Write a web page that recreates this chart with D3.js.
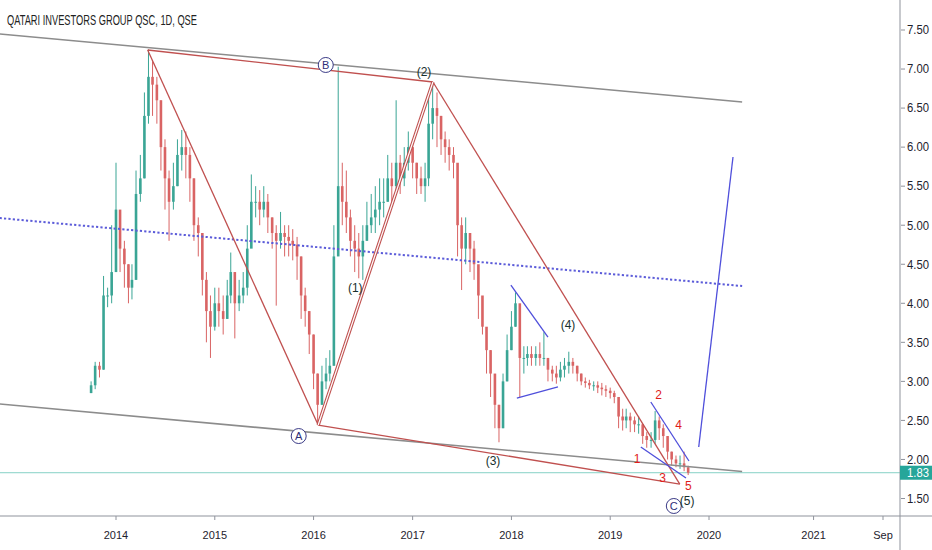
<!DOCTYPE html>
<html>
<head>
<meta charset="utf-8">
<script src="https://cdn.jsdelivr.net/npm/d3@7"></script>
<style>
  body { margin: 0; background: #fff; }
  text { font-family: "Liberation Sans", Arial, sans-serif; }
</style>
</head>
<body>
<div id="chart"></div>
<script>
var W = 932, H = 550;
var axisX = 900; // price axis line
var axisY = 516; // time axis line

// half-month candles, Oct 2013 .. Oct 2019 (open = previous close)
var firstOpen = 2.85;
var closes = [
  2.95, 3.2, 3.15, 4.1, 4.1, 4.4,
  5.2, 4.7, 4.5, 4.2, 4.3, 5.4, 5.6, 6.4, 6.9, 6.8, 6.6, 6.0, 5.6, 5.3, 5.5, 5.9, 6.0, 5.9, 5.6, 5.0, 4.9, 4.3, 3.9, 3.7,
  4.0, 3.9, 3.8, 4.1, 4.4, 4.0, 4.1, 4.2, 4.7, 5.3, 5.3, 5.2, 5.3, 5.1, 4.9, 4.8, 4.9, 4.85, 4.8, 4.75, 4.6, 4.1, 3.9, 3.6,
  3.1, 2.7, 3.0, 3.1, 3.2, 4.6, 5.5, 5.3, 5.1, 4.8, 4.7, 4.6, 4.8, 5.0, 5.1, 5.2, 5.3, 5.3, 5.6, 5.5, 5.8, 5.6, 5.8, 6.0,
  5.8, 5.6, 5.5, 5.6, 6.3, 6.5, 6.4, 6.1, 6.0, 5.9, 5.8, 5.0, 4.7, 4.9, 4.7, 4.5, 4.1, 3.7, 3.4, 3.1, 2.7, 2.4, 3.0, 3.4,
  3.7, 4.0, 3.3, 3.3, 3.35, 3.3, 3.35, 3.3, 3.3, 3.15, 3.1, 3.05, 3.15, 3.2, 3.25, 3.2, 3.1, 3.0, 2.98, 2.95, 2.95, 2.92, 2.9, 2.88,
  2.85, 2.8, 2.55, 2.5, 2.55, 2.5, 2.45, 2.45, 2.3, 2.25, 2.25, 2.5, 2.4, 2.3, 2.1, 2.0, 1.95, 1.95, 1.9, 1.83
];
var highs = [
  3.0, 3.25, 3.25, 4.35, 4.2, 5.0,
  5.8, 5.1, 4.8, 4.5, 4.5, 5.7, 5.9, 6.7, 7.25, 7.1, 6.9, 6.6, 6.1, 5.7, 5.8, 6.1, 6.22, 6.2, 6.0, 5.6, 5.1, 4.9, 4.4, 4.1,
  4.2, 4.2, 4.1, 4.3, 4.65, 4.4, 4.3, 4.4, 5.0, 5.65, 5.5, 5.45, 5.5, 5.4, 5.1, 5.0, 5.17, 5.0, 5.0, 4.95, 4.85, 4.6, 4.2, 3.9,
  3.6, 3.1, 3.2, 3.3, 3.4, 5.0, 7.03, 5.8, 5.7, 5.2, 5.0, 4.9, 5.0, 5.3, 5.4, 5.5, 5.6, 5.6, 5.9, 5.8, 6.6, 5.9, 6.0, 6.2,
  6.1, 5.8, 5.75, 5.8, 6.7, 6.83, 6.7, 6.4, 6.2, 6.1, 6.0, 5.4, 5.1, 5.1, 4.9, 4.8, 4.4, 4.0, 3.6, 3.4, 3.0, 2.7, 3.1, 3.6,
  3.9, 4.14, 3.8, 3.45, 3.45, 3.45, 3.45, 3.5, 3.63, 3.3, 3.2, 3.2, 3.25, 3.3, 3.38, 3.3, 3.2, 3.1, 3.05, 3.02, 3.0, 3.0, 2.98, 2.95,
  2.92, 2.88, 2.8, 2.65, 2.65, 2.6, 2.55, 2.55, 2.45, 2.35, 2.35, 2.62, 2.55, 2.45, 2.3, 2.1, 2.05, 2.05, 2.1, 1.92
];
var lows = [
  2.85, 2.9, 3.05, 3.15, 3.95, 4.0,
  4.4, 4.4, 4.2, 4.0, 4.05, 4.3, 5.3, 5.6, 6.3, 6.4, 6.3, 5.7, 5.2, 4.8, 5.2, 5.5, 5.7, 5.6, 5.3, 4.8, 4.6, 4.1, 3.5, 3.3,
  3.65, 3.7, 3.6, 3.8, 4.0, 3.55, 3.9, 4.0, 4.1, 4.8, 5.1, 5.0, 5.1, 4.9, 4.7, 3.97, 4.7, 4.6, 4.6, 4.55, 4.3, 3.8, 3.7, 3.35,
  2.9, 2.44, 2.7, 2.9, 3.0, 3.2, 4.8, 5.0, 4.9, 4.6, 4.4, 4.32, 4.3, 4.8, 4.9, 4.9, 5.0, 5.1, 5.3, 5.3, 5.4, 5.4, 5.5, 5.7,
  5.6, 5.4, 5.4, 5.3, 5.5, 6.1, 6.0, 5.9, 5.8, 5.7, 5.6, 4.6, 4.17, 4.5, 4.4, 4.3, 3.8, 3.6, 3.1, 2.8, 2.4, 2.22, 2.4, 3.0,
  3.4, 3.7, 2.8, 3.1, 3.2, 3.2, 3.2, 3.2, 3.2, 3.0, 3.0, 2.97, 3.0, 3.05, 3.1, 3.1, 3.0, 2.95, 2.92, 2.9, 2.88, 2.85, 2.82, 2.8,
  2.78, 2.72, 2.4, 2.37, 2.4, 2.35, 2.35, 2.33, 2.2, 2.15, 2.15, 2.2, 2.25, 2.15, 2.0, 1.92, 1.9, 1.88, 1.85, 1.8
];
var lastPrice = 1.83;

var yTicks = [1.5, 2.0, 2.5, 3.0, 3.5, 4.0, 4.5, 5.0, 5.5, 6.0, 6.5, 7.0, 7.5];
var xTickDates = ["2014-01-01", "2015-01-01", "2016-01-01", "2017-01-01", "2018-01-01",
                  "2019-01-01", "2020-01-01", "2021-01-01", "2021-09-01"];
var xTickLabels = ["2014", "2015", "2016", "2017", "2018", "2019", "2020", "2021", "Sep"];

// drawings: [start date, start price, end date, end price]
var channelLines = [
  ["2012-10-28", 7.449, "2020-04-26", 6.578],
  ["2012-10-28", 2.710, "2020-04-26", 1.845]
];
var midLine = ["2012-10-28", 5.092, "2020-04-26", 4.221];
// ABC turning points: start, A, B/(2), C
var waveDates = ["2014-04-28", "2016-01-18", "2017-03-17", "2019-09-15"];
var wavePrices = [7.244, 2.441, 6.834, 1.685];
var blueLines = [
  ["2017-12-30", 4.234, "2018-05-16", 3.568],
  ["2018-01-21", 2.787, "2018-06-22", 2.928],
  ["2019-05-31", 2.736, "2019-10-19", 1.980],
  ["2019-04-24", 2.159, "2019-10-08", 1.762],
  ["2019-11-24", 2.159, "2020-03-25", 5.874]
];
var circleLabels = [["A", "2015-11-07", 2.300], ["B", "2016-02-15", 7.052], ["C", "2019-08-24", 1.404]];
var waveLabels = [["(1)", "2016-06-03", 4.196], ["(2)", "2017-02-12", 6.962], ["(3)", "2017-10-25", 1.980],
                  ["(4)", "2018-07-29", 3.722], ["(5)", "2019-10-12", 1.470]];
var subLabels = [["1", "2019-04-10", 2.006], ["2", "2019-06-29", 2.825], ["3", "2019-07-14", 1.762],
                 ["4", "2019-09-11", 2.441], ["5", "2019-10-17", 1.665]];

var parse = d3.timeParse("%Y-%m-%d");

var periods = [];
d3.timeMonth.range(new Date(2013, 9, 1), new Date(2019, 10, 1)).forEach(function (m) {
  periods.push(m, d3.timeDay.offset(m, 15));
});
var candles = closes.map(function (c, i) {
  return { date: periods[i], open: i === 0 ? firstOpen : closes[i - 1], high: highs[i], low: lows[i], close: c };
});

var x = d3.scaleTime()
    .domain([parse("2014-01-01"), parse("2020-01-01"), parse("2021-09-01")])
    .range([116, 709, 883]);
var y = d3.scaleLinear().domain([1.5, 7.5]).range([498.5, 30]);

var svg = d3.select("#chart").append("svg")
    .attr("width", W)
    .attr("height", H);

svg.append("defs").append("clipPath").attr("id", "plot")
  .append("rect").attr("x", 0).attr("y", 0).attr("width", axisX).attr("height", axisY);

var plot = svg.append("g").attr("clip-path", "url(#plot)");

// last price line
plot.append("line")
    .attr("x1", 0).attr("x2", axisX)
    .attr("y1", y(lastPrice)).attr("y2", y(lastPrice))
    .attr("stroke", "#86d1c6").attr("stroke-width", 1);

// candles
var cg = plot.append("g");
candles.forEach(function (d) {
  var col = d.close >= d.open ? "#3aa595" : "#d96464";
  var cx = x(d.date);
  cg.append("line")
      .attr("x1", cx).attr("x2", cx)
      .attr("y1", y(d.high)).attr("y2", y(d.low))
      .attr("stroke", col).attr("stroke-width", 1);
  var top = y(Math.max(d.open, d.close));
  cg.append("rect")
      .attr("x", cx - 1.3).attr("width", 2.6)
      .attr("y", top)
      .attr("height", Math.max(1, y(Math.min(d.open, d.close)) - top))
      .attr("fill", col);
});

function seg(g, s) {
  return g.append("line")
      .attr("x1", x(parse(s[0]))).attr("y1", y(s[1]))
      .attr("x2", x(parse(s[2]))).attr("y2", y(s[3]));
}

channelLines.forEach(function (s) {
  seg(plot, s).attr("stroke", "#8c8c8c").attr("stroke-width", 1.6);
});
seg(plot, midLine)
    .attr("stroke", "#5b5bd9").attr("stroke-width", 2)
    .attr("stroke-dasharray", "2.2,2.2");

// ABC pattern
var wp = waveDates.map(function (d, i) { return [x(parse(d)), y(wavePrices[i])]; });
var redCol = "#c0504f";
[[0, 1], [0, 2], [2, 3], [1, 3]].forEach(function (p) {
  plot.append("line")
      .attr("x1", wp[p[0]][0]).attr("y1", wp[p[0]][1])
      .attr("x2", wp[p[1]][0]).attr("y2", wp[p[1]][1])
      .attr("stroke", redCol).attr("stroke-width", 1.3);
});
// A -> (2) drawn as a double line
plot.append("line")
    .attr("x1", wp[1][0]).attr("y1", wp[1][1]).attr("x2", wp[2][0]).attr("y2", wp[2][1])
    .attr("stroke", redCol).attr("stroke-width", 3.4);
plot.append("line")
    .attr("x1", wp[1][0]).attr("y1", wp[1][1]).attr("x2", wp[2][0]).attr("y2", wp[2][1])
    .attr("stroke", "#fff").attr("stroke-width", 1.2);

blueLines.forEach(function (s) {
  seg(plot, s).attr("stroke", "#4f4fdb").attr("stroke-width", 1.3);
});

// labels
circleLabels.forEach(function (d) {
  var px = x(parse(d[1])), py = y(d[2]);
  plot.append("circle").attr("cx", px).attr("cy", py).attr("r", 7.5)
      .attr("fill", "#fff").attr("stroke", "#3a3a86").attr("stroke-width", 1);
  plot.append("text").attr("x", px).attr("y", py)
      .attr("text-anchor", "middle").attr("dy", "0.36em")
      .style("font-size", "11px").style("fill", "#2e2e78")
      .text(d[0]);
});
waveLabels.forEach(function (d) {
  plot.append("text").attr("x", x(parse(d[1]))).attr("y", y(d[2]))
      .attr("text-anchor", "middle").attr("dy", "0.36em")
      .style("font-size", "12px").style("fill", "#18302e")
      .text(d[0]);
});
subLabels.forEach(function (d) {
  plot.append("text").attr("x", x(parse(d[1]))).attr("y", y(d[2]))
      .attr("text-anchor", "middle").attr("dy", "0.36em")
      .style("font-size", "12px").style("fill", "#e01b1b")
      .text(d[0]);
});

// axes
var axisCol = "#8f939c", textCol = "#1e222d";
svg.append("line").attr("x1", axisX).attr("x2", axisX).attr("y1", 0).attr("y2", H)
    .attr("stroke", axisCol).attr("stroke-width", 1);
svg.append("line").attr("x1", 0).attr("x2", W).attr("y1", axisY).attr("y2", axisY)
    .attr("stroke", axisCol).attr("stroke-width", 1);

var ya = svg.append("g");
yTicks.forEach(function (v) {
  ya.append("line").attr("x1", axisX + 1).attr("x2", axisX + 5)
      .attr("y1", y(v)).attr("y2", y(v)).attr("stroke", axisCol);
  ya.append("text").attr("x", axisX + 7).attr("y", y(v)).attr("dy", "0.36em")
      .attr("textLength", 22).attr("lengthAdjust", "spacingAndGlyphs")
      .style("font-size", "12px").style("fill", textCol)
      .text(d3.format(".2f")(v));
});

var xa = svg.append("g");
xTickDates.forEach(function (d, i) {
  var px = x(parse(d));
  xa.append("line").attr("x1", px).attr("x2", px).attr("y1", axisY).attr("y2", axisY + 4)
      .attr("stroke", axisCol);
  xa.append("text").attr("x", px).attr("y", 535).attr("dy", "0.36em")
      .attr("text-anchor", "middle")
      .style("font-size", "11px").style("fill", textCol)
      .text(xTickLabels[i]);
});

// last price tag
svg.append("rect").attr("x", axisX).attr("y", y(lastPrice) - 7)
    .attr("width", W - axisX).attr("height", 14).attr("fill", "#26a69a");
svg.append("text").attr("x", axisX + 7).attr("y", y(lastPrice)).attr("dy", "0.36em")
    .attr("textLength", 22).attr("lengthAdjust", "spacingAndGlyphs")
    .style("font-size", "12px").style("fill", "#fff")
    .text(d3.format(".2f")(lastPrice));

// title (condensed to the reference width)
svg.append("text").attr("x", 7).attr("y", 25)
    .attr("textLength", 190).attr("lengthAdjust", "spacingAndGlyphs")
    .style("font-size", "14px").style("fill", "#222")
    .text("QATARI INVESTORS GROUP QSC, 1D, QSE");
</script>
</body>
</html>
